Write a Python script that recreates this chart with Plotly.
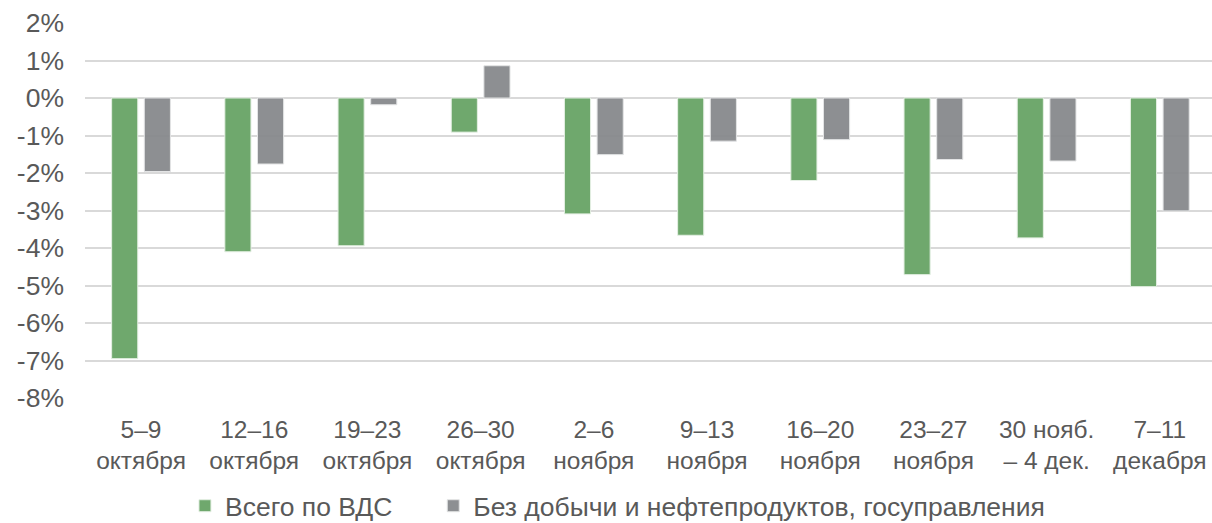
import plotly.graph_objects as go

categories = ["5–9<br>октября", "12–16<br>октября", "19–23<br>октября", "26–30<br>октября",
              "2–6<br>ноября", "9–13<br>ноября", "16–20<br>ноября", "23–27<br>ноября",
              "30 нояб.<br>– 4 дек.", "7–11<br>декабря"]
total_gva = [-6.95, -4.10, -3.94, -0.91, -3.09, -3.66, -2.20, -4.71, -3.73, -5.03]
excl_mining = [-1.96, -1.76, -0.18, 0.86, -1.51, -1.15, -1.11, -1.64, -1.68, -3.01]
series_names = ["Всего по ВДС", "Без добычи и нефтепродуктов, госуправления"]
y_ticks = [2, 1, 0, -1, -2, -3, -4, -5, -6, -7, -8]
y_ticklabels = [f"{v}%" for v in y_ticks]

GREEN = "#6FA86D"
TEXT = "#595959"
FONT = "Liberation Sans, Arial, sans-serif"

fig = go.Figure()
fig.add_trace(go.Bar(x=categories, y=total_gva, name=series_names[0], legend="legend",
                     marker=dict(color=GREEN, line=dict(color="#E4EFE3", width=1))))
fig.add_trace(go.Bar(x=categories, y=excl_mining, name=series_names[1], legend="legend2",
                     marker=dict(color="rgba(132,135,138,0.93)", line=dict(color="#E3E4E5", width=1))))

legend_common = dict(orientation="h", yanchor="middle", y=-0.288, xanchor="left",
                     font=dict(family=FONT, size=26.5, color=TEXT), itemwidth=30,
                     bgcolor="rgba(0,0,0,0)", borderwidth=0)

fig.update_layout(
    width=1212, height=523,
    margin=dict(l=85, r=0, t=23, b=125, autoexpand=False),
    paper_bgcolor="white", plot_bgcolor="white",
    barmode="group", bargap=0.423, bargroupgap=0.2,
    font=dict(family=FONT, size=24.5, color=TEXT),
    showlegend=True,
    legend=dict(x=0.0887, **legend_common),
    legend2=dict(x=0.309, **legend_common),
    xaxis=dict(range=[-0.495, 9.461], showgrid=False, showline=False, ticks="",
               tickfont=dict(family=FONT, size=24.5, color=TEXT), ticklabelstandoff=14),
    yaxis=dict(range=[-8, 2], tickvals=y_ticks, ticktext=y_ticklabels,
               showgrid=True, gridcolor="#D9D9D9", gridwidth=1.5,
               zeroline=False, showline=False, ticks="", ticklabelstandoff=20,
               tickfont=dict(family=FONT, size=26.5, color=TEXT)),
)

fig.write_html("out.html", config={"displayModeBar": False},
               post_script="document.body.style.margin='0';document.body.style.overflow='hidden';")
